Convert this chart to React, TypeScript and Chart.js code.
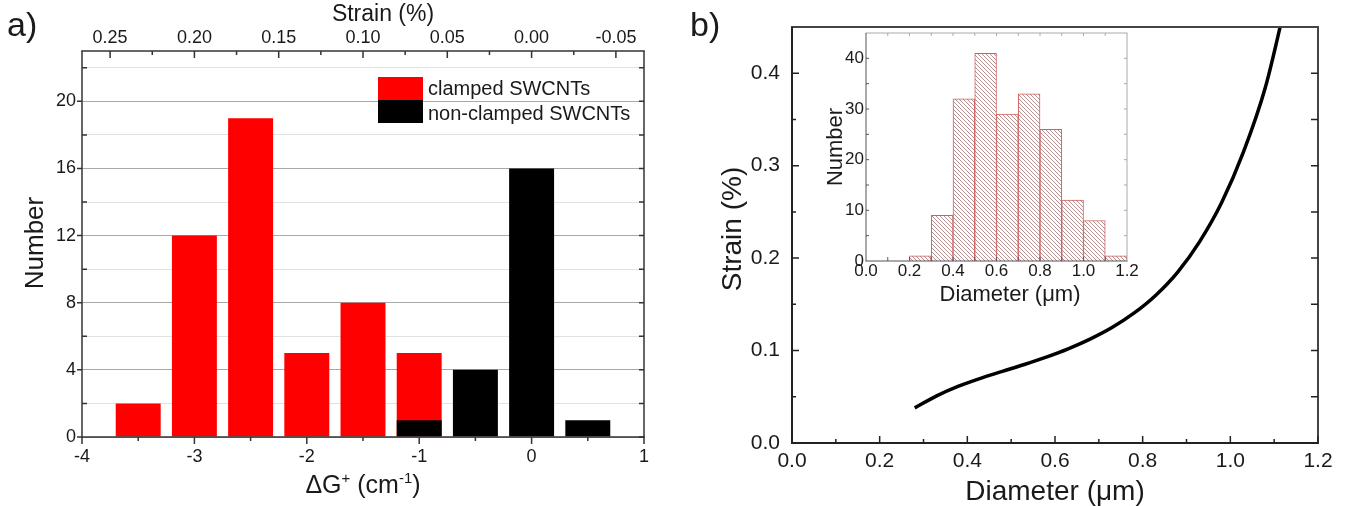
import React, { useEffect, useRef } from 'react';
import { Chart, registerables } from 'chart.js';

Chart.register(...registerables);

const FONT = '"Liberation Sans", Arial, Helvetica, sans-serif';
const TEXT = '#1a1a1a';

// ---------- panel a: histogram of G+ shift ----------
const deltaGCenters = [-3.5, -3, -2.5, -2, -1.5, -1, -0.5, 0, 0.5];
const clampedCounts = [2, 12, 19, 5, 8, 5, 0, 0, 0];
const nonClampedCounts = [0, 0, 0, 0, 0, 1, 4, 16, 1];
const deltaGMajor = [-4, -3, -2, -1, 0, 1];
const deltaGMinor = [-3.5, -2.5, -1.5, -0.5, 0.5];
const numberMajor = [0, 4, 8, 12, 16, 20];
const numberMinor = [2, 6, 10, 14, 18, 22];
const strainMajor = [0.25, 0.2, 0.15, 0.1, 0.05, 0, -0.05];
const strainMinor = [0.225, 0.175, 0.125, 0.075, 0.025, -0.025];
const legendLabels = ['clamped SWCNTs', 'non-clamped SWCNTs'];

// ---------- panel b: strain vs diameter ----------
const curveDiameter = [0.28, 0.33, 0.38, 0.43, 0.48, 0.53, 0.58, 0.63, 0.68, 0.73, 0.78, 0.83, 0.88, 0.93, 0.98, 1.03, 1.08, 1.115, 1.125];
const curveStrain = [0.038, 0.051, 0.0615, 0.07, 0.0775, 0.0849, 0.0929, 0.1019, 0.1124, 0.1249, 0.1404, 0.1599, 0.1849, 0.2179, 0.2599, 0.3149, 0.3849, 0.4532, 0.4752];
const diamMajor = [0, 0.2, 0.4, 0.6, 0.8, 1.0, 1.2];
const diamMinor = [0.1, 0.3, 0.5, 0.7, 0.9, 1.1];
const strainBMajor = [0, 0.1, 0.2, 0.3, 0.4];
const strainBMinor = [0.05, 0.15, 0.25, 0.35];

// ---------- inset: diameter histogram ----------
const binCenters = [0.25, 0.35, 0.45, 0.55, 0.65, 0.75, 0.85, 0.95, 1.05, 1.15];
const binCounts = [1, 9, 32, 41, 29, 33, 26, 12, 8, 1];
const insetXTicks = [0.1, 0.2, 0.3, 0.4, 0.5, 0.6, 0.7, 0.8, 0.9, 1.0, 1.1];
const insetYTicks = [5, 10, 15, 20, 25, 30, 35, 40];

type Side = 'left' | 'right' | 'top' | 'bottom';

function drawTicks(chart: any, scaleId: string, values: number[], side: Side, len: number, inward: boolean, color: string, width = 1.5) {
  const s = chart.scales[scaleId];
  const a = chart.chartArea;
  const ctx = chart.ctx;
  ctx.save();
  ctx.strokeStyle = color;
  ctx.lineWidth = width;
  ctx.beginPath();
  for (const v of values) {
    const p = s.getPixelForValue(v);
    if (side === 'bottom') { ctx.moveTo(p, a.bottom); ctx.lineTo(p, a.bottom + (inward ? -len : len)); }
    if (side === 'top') { ctx.moveTo(p, a.top); ctx.lineTo(p, a.top + (inward ? len : -len)); }
    if (side === 'left') { ctx.moveTo(a.left, p); ctx.lineTo(a.left + (inward ? len : -len), p); }
    if (side === 'right') { ctx.moveTo(a.right, p); ctx.lineTo(a.right + (inward ? -len : len), p); }
  }
  ctx.stroke();
  ctx.restore();
}

function drawFrame(chart: any, colors: { l: string; r: string; t: string; b: string }, width: number) {
  const a = chart.chartArea;
  const ctx = chart.ctx;
  ctx.save();
  ctx.lineWidth = width;
  const seg = (c: string, x1: number, y1: number, x2: number, y2: number) => {
    ctx.strokeStyle = c; ctx.beginPath(); ctx.moveTo(x1, y1); ctx.lineTo(x2, y2); ctx.stroke();
  };
  seg(colors.t, a.left - width / 2, a.top, a.right + width / 2, a.top);
  seg(colors.b, a.left - width / 2, a.bottom, a.right + width / 2, a.bottom);
  seg(colors.l, a.left, a.top, a.left, a.bottom);
  seg(colors.r, a.right, a.top, a.right, a.bottom);
  ctx.restore();
}

function text(ctx: CanvasRenderingContext2D, t: string, x: number, y: number, size: number, align: CanvasTextAlign = 'center', baseline: CanvasTextBaseline = 'alphabetic', rotate = 0) {
  ctx.save();
  ctx.font = `${size}px ${FONT}`;
  ctx.fillStyle = TEXT;
  ctx.textAlign = align;
  ctx.textBaseline = baseline;
  ctx.translate(x, y);
  if (rotate) ctx.rotate(rotate);
  ctx.fillText(t, 0, 0);
  ctx.restore();
}

function richText(ctx: CanvasRenderingContext2D, parts: { t: string; sup?: boolean }[], cx: number, baseline: number, size: number) {
  const sup = Math.round(size * 0.6);
  ctx.save();
  ctx.fillStyle = TEXT;
  ctx.textBaseline = 'alphabetic';
  ctx.textAlign = 'left';
  let total = 0;
  for (const p of parts) { ctx.font = `${p.sup ? sup : size}px ${FONT}`; total += ctx.measureText(p.t).width; }
  let x = cx - total / 2;
  for (const p of parts) {
    ctx.font = `${p.sup ? sup : size}px ${FONT}`;
    ctx.fillText(p.t, x, p.sup ? baseline - size * 0.42 : baseline);
    x += ctx.measureText(p.t).width;
  }
  ctx.restore();
}

function fmt(v: number, d: number) {
  const r = Math.abs(v) < 1e-9 ? 0 : v;
  return r.toFixed(d);
}

function makeA(canvas: HTMLCanvasElement) {
  const deco = {
    id: 'decoA',
    afterDatasetsDraw(chart: any) {
      const dark = '#333';
      drawFrame(chart, { l: dark, r: dark, t: dark, b: dark }, 1.5);
      drawTicks(chart, 'x', deltaGMajor, 'bottom', 7, false, dark);
      drawTicks(chart, 'x', deltaGMinor, 'bottom', 4, false, dark);
      drawTicks(chart, 'x2', strainMajor, 'top', 7, true, dark);
      drawTicks(chart, 'x2', strainMinor, 'top', 4, true, dark);
      drawTicks(chart, 'y', numberMajor, 'left', 5, false, dark);
      drawTicks(chart, 'y', numberMinor, 'left', 5, true, dark);
      drawTicks(chart, 'y', numberMajor, 'right', 5, true, dark);
      drawTicks(chart, 'y', numberMinor, 'right', 5, true, dark);
    },
    afterDraw(chart: any) {
      const ctx = chart.ctx as CanvasRenderingContext2D;
      text(ctx, 'a)', 7, 36, 34, 'left');
      text(ctx, 'Strain (%)', 383, 21, 23);
      richText(ctx, [{ t: '\u0394G' }, { t: '+', sup: true }, { t: ' (cm' }, { t: '-1', sup: true }, { t: ')' }], 363, 493, 25);
      text(ctx, 'Number', 36, 243, 26, 'center', 'middle', -Math.PI / 2);
      // legend
      ctx.save();
      ctx.fillStyle = '#ff0000';
      ctx.fillRect(378, 77, 45, 23);
      ctx.fillStyle = '#000000';
      ctx.fillRect(378, 100, 45, 23);
      ctx.restore();
      text(ctx, legendLabels[0], 428, 95, 20, 'left');
      text(ctx, legendLabels[1], 428, 120, 20, 'left');
    },
  };
  const tickFont = { family: FONT, size: 18 };
  return new Chart(canvas, {
    type: 'bar',
    data: {
      datasets: [
        {
          label: legendLabels[1],
          data: deltaGCenters.map((x, i) => ({ x, y: nonClampedCounts[i] })),
          backgroundColor: '#000000',
          borderWidth: 0,
          barPercentage: 1,
          categoryPercentage: 0.8,
          xAxisID: 'x',
          yAxisID: 'y',
        },
        {
          label: legendLabels[0],
          data: deltaGCenters.map((x, i) => ({ x, y: clampedCounts[i] })),
          backgroundColor: '#ff0000',
          borderWidth: 0,
          barPercentage: 1,
          categoryPercentage: 0.8,
          xAxisID: 'x',
          yAxisID: 'y',
        },
      ],
    } as any,
    options: {
      animation: false,
      responsive: false,
      maintainAspectRatio: false,
      layout: { padding: { left: 0, right: 36, top: 0, bottom: 0 } },
      plugins: { legend: { display: false }, tooltip: { enabled: false } },
      scales: {
        x: {
          type: 'linear', position: 'bottom', min: -4, max: 1, offset: false, stacked: true,
          grid: { display: false, drawTicks: false, offset: false }, border: { display: false },
          ticks: { stepSize: 1, autoSkip: false, padding: 9, font: tickFont, color: TEXT, maxRotation: 0, callback: (v: any) => fmt(Number(v), 0) },
          afterFit: (s: any) => { s.height = 69; },
        },
        x2: {
          type: 'linear', axis: 'x', position: 'top', min: -1 / 15, max: 4 / 15, reverse: true, offset: false,
          grid: { display: false, drawTicks: false, offset: false }, border: { display: false },
          ticks: { autoSkip: false, padding: 2, font: tickFont, color: TEXT, maxRotation: 0, callback: (v: any) => fmt(Number(v), 2) },
          afterBuildTicks: (s: any) => { s.ticks = strainMajor.map((v) => ({ value: v })); },
          afterFit: (s: any) => { s.height = 51; },
        },
        y: {
          type: 'linear', position: 'left', min: 0, max: 23, stacked: false,
          grid: {
            drawTicks: false,
            color: (c: any) => (c.tick && c.tick.value % 4 === 0 ? '#a9a9a9' : '#e2e2e2'),
            lineWidth: 1,
          },
          border: { display: false },
          ticks: { stepSize: 2, includeBounds: false, autoSkip: false, padding: 6, font: tickFont, color: TEXT, callback: (v: any) => (Number(v) % 4 === 0 ? String(v) : '') },
          afterFit: (s: any) => { s.width = 82; },
        },
      },
    } as any,
    plugins: [deco],
  });
}

function makeB(canvas: HTMLCanvasElement) {
  const deco = {
    id: 'decoB',
    afterDatasetsDraw(chart: any) {
      drawFrame(chart, { l: '#222', r: '#444', t: '#444', b: '#222' }, 2);
      const dark = '#222';
      drawTicks(chart, 'y', strainBMajor, 'left', 7, true, dark);
      drawTicks(chart, 'y', strainBMinor, 'left', 4, true, dark);
      drawTicks(chart, 'y', strainBMajor, 'right', 7, true, dark);
      drawTicks(chart, 'y', strainBMinor, 'right', 7, true, dark);
      drawTicks(chart, 'x', diamMajor, 'bottom', 7, true, dark);
      drawTicks(chart, 'x', diamMinor, 'bottom', 4, true, dark);
    },
    afterDraw(chart: any) {
      const ctx = chart.ctx as CanvasRenderingContext2D;
      text(ctx, 'b)', 10, 36, 34, 'left');
      text(ctx, 'Strain (%)', 53, 229, 28, 'center', 'middle', -Math.PI / 2);
      text(ctx, 'Diameter (\u03bcm)', 375, 500, 28);
    },
  };
  const tickFont = { family: FONT, size: 21 };
  return new Chart(canvas, {
    type: 'line',
    data: {
      datasets: [
        {
          data: curveDiameter.map((x, i) => ({ x, y: curveStrain[i] })),
          borderColor: '#000000',
          borderWidth: 3.5,
          pointRadius: 0,
          fill: false,
          cubicInterpolationMode: 'monotone',
          clip: 0,
        },
      ],
    } as any,
    options: {
      animation: false,
      responsive: false,
      maintainAspectRatio: false,
      layout: { padding: { left: 0, right: 40, top: 27, bottom: 0 } },
      plugins: { legend: { display: false }, tooltip: { enabled: false } },
      scales: {
        x: {
          type: 'linear', min: 0, max: 1.2, offset: false,
          grid: { display: false, drawTicks: false }, border: { display: false },
          ticks: { stepSize: 0.2, autoSkip: false, padding: 6, font: tickFont, color: TEXT, maxRotation: 0, callback: (v: any) => fmt(Number(v), 1) },
          afterFit: (s: any) => { s.height = 63; },
        },
        y: {
          type: 'linear', min: 0, max: 0.45,
          grid: { display: false, drawTicks: false }, border: { display: false },
          ticks: { stepSize: 0.1, includeBounds: false, autoSkip: false, padding: 12, font: tickFont, color: TEXT, callback: (v: any) => fmt(Number(v), 1) },
          afterFit: (s: any) => { s.width = 112; },
        },
      },
    } as any,
    plugins: [deco],
  });
}

function makeC(canvas: HTMLCanvasElement) {
  const ctx0 = canvas.getContext('2d')!;
  const tile = document.createElement('canvas');
  tile.width = 4; tile.height = 4;
  const g = tile.getContext('2d')!;
  g.fillStyle = '#ffffff';
  g.fillRect(0, 0, 4, 4);
  g.strokeStyle = 'rgba(130,70,70,0.85)';
  g.lineWidth = 0.7;
  g.beginPath();
  g.moveTo(-1, -1); g.lineTo(5, 5);
  g.moveTo(-1, 3); g.lineTo(1, 5);
  g.moveTo(3, -1); g.lineTo(5, 1);
  g.stroke();
  const hatch = ctx0.createPattern(tile, 'repeat');

  const deco = {
    id: 'decoC',
    beforeDatasetsDraw(chart: any) {
      const a = chart.chartArea;
      const c = chart.ctx;
      c.save(); c.fillStyle = '#ffffff'; c.fillRect(a.left, a.top, a.right - a.left, a.bottom - a.top); c.restore();
    },
    afterDatasetsDraw(chart: any) {
      drawFrame(chart, { l: '#555', r: '#aaa', t: '#aaa', b: '#555' }, 1);
      drawTicks(chart, 'x', insetXTicks, 'bottom', 4, true, '#7a5050', 1);
      drawTicks(chart, 'x', insetXTicks, 'top', 3, true, '#aaa', 1);
      drawTicks(chart, 'y', insetYTicks, 'left', 3, true, '#555', 1);
      drawTicks(chart, 'y', insetYTicks, 'right', 3, true, '#aaa', 1);
    },
    afterDraw(chart: any) {
      const ctx = chart.ctx as CanvasRenderingContext2D;
      text(ctx, 'Number', 36, 127, 22, 'center', 'middle', -Math.PI / 2);
      text(ctx, 'Diameter (\u03bcm)', 210, 281, 22);
    },
  };
  const tickFont = { family: FONT, size: 17 };
  return new Chart(canvas, {
    type: 'bar',
    data: {
      datasets: [
        {
          data: binCenters.map((x, i) => ({ x, y: binCounts[i] })),
          backgroundColor: hatch as any,
          borderColor: '#d06060',
          borderWidth: 1,
          barPercentage: 1,
          categoryPercentage: 1,
        },
      ],
    } as any,
    options: {
      animation: false,
      responsive: false,
      maintainAspectRatio: false,
      layout: { padding: { left: 0, right: 33, top: 13, bottom: 0 } },
      plugins: { legend: { display: false }, tooltip: { enabled: false } },
      scales: {
        x: {
          type: 'linear', min: 0, max: 1.2, offset: false,
          grid: { display: false, drawTicks: false, offset: false }, border: { display: false },
          ticks: { stepSize: 0.2, autoSkip: false, padding: 0, font: tickFont, color: TEXT, maxRotation: 0, callback: (v: any) => fmt(Number(v), 1) },
          afterFit: (s: any) => { s.height = 59; },
        },
        y: {
          type: 'linear', min: 0, max: 45,
          grid: { display: false, drawTicks: false }, border: { display: false },
          ticks: { stepSize: 10, includeBounds: false, autoSkip: false, padding: 2, font: tickFont, color: TEXT, callback: (v: any) => String(v) },
          afterFit: (s: any) => { s.width = 66; },
        },
      },
    } as any,
    plugins: [deco],
  });
}

export default function App() {
  const aRef = useRef<HTMLCanvasElement>(null);
  const bRef = useRef<HTMLCanvasElement>(null);
  const cRef = useRef<HTMLCanvasElement>(null);

  useEffect(() => {
    const charts: Chart[] = [];
    if (aRef.current) charts.push(makeA(aRef.current));
    if (bRef.current) charts.push(makeB(bRef.current));
    if (cRef.current) charts.push(makeC(cRef.current));
    return () => charts.forEach((c) => c.destroy());
  }, []);

  return (
    <div style={{ position: 'fixed', left: 0, top: 0, width: 1358, height: 506, background: '#ffffff', overflow: 'hidden' }}>
      <canvas ref={aRef} width={680} height={506} style={{ position: 'absolute', left: 0, top: 0, width: 680, height: 506 }} />
      <canvas ref={bRef} width={678} height={506} style={{ position: 'absolute', left: 680, top: 0, width: 678, height: 506 }} />
      <canvas ref={cRef} width={360} height={300} style={{ position: 'absolute', left: 800, top: 20, width: 360, height: 300 }} />
    </div>
  );
}
